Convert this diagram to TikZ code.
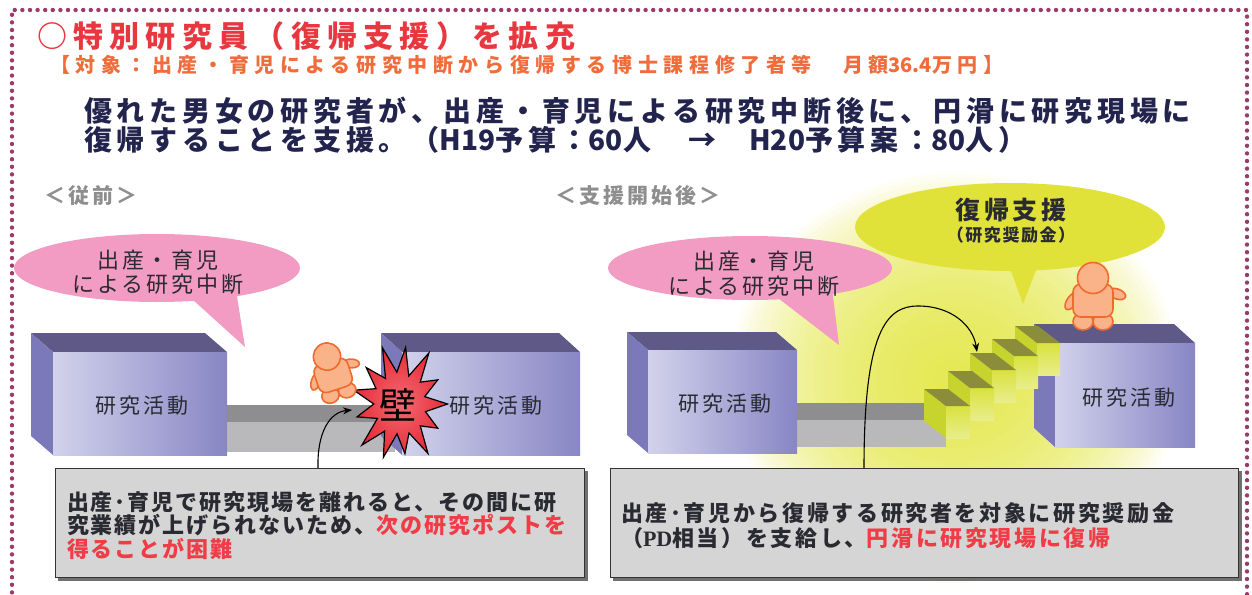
\documentclass[tikz,border=0pt]{standalone}
\usepackage{fontspec}
\usetikzlibrary{arrows.meta}

\newfontfamily\jp{Noto Sans CJK JP}
\newfontfamily\pdserif{Liberation Serif}
% Japanese text: size in pt, extra tracking in percent of the size
\newcommand\jsz[2]{\jp\mdseries\fontsize{#1}{#1}\selectfont\addfontfeatures{LetterSpace=#2}}
\newcommand\jszb[2]{\jp\bfseries\fontsize{#1}{#1}\selectfont\addfontfeatures{LetterSpace=#2}}
% Latin runs without tracking
\newcommand\lat[1]{{\jp #1}}

\definecolor{dotc}{HTML}{9C3A6A}
\definecolor{titlered}{HTML}{E8373F}
\definecolor{suborange}{HTML}{F06C3A}
\definecolor{navy}{HTML}{22244E}
\definecolor{labelgray}{HTML}{8E8E8E}
\definecolor{inkc}{HTML}{2A2A32}
\definecolor{boxred}{HTML}{F03C46}
\definecolor{pinkc}{HTML}{F29BC3}
\definecolor{yelc}{HTML}{E0E23A}
\definecolor{glowc}{HTML}{E2E640}
\definecolor{cubetopc}{HTML}{5F5988}
\definecolor{cubesidec}{HTML}{7B79B9}
\definecolor{cubeL}{HTML}{D2D2EC}
\definecolor{cubeR}{HTML}{8886C4}
\definecolor{barTop}{HTML}{8E8E90}
\definecolor{barLow}{HTML}{B9B9BB}
\definecolor{treadc}{HTML}{8C8D3A}
\definecolor{riserc}{HTML}{D9E23E}
\definecolor{stepsidec}{HTML}{C8D42E}
\definecolor{skin}{HTML}{FAB389}
\definecolor{skinline}{HTML}{F06A2E}
\definecolor{burstc}{HTML}{E52B36}
\definecolor{burstin}{HTML}{F36A74}
\definecolor{tboxfill}{HTML}{D5D5D5}
\definecolor{tboxline}{HTML}{333333}
\definecolor{tboxshadow}{HTML}{707070}

% 3D block: front face (#1,#2)-(#3,#4), depth offset (#5,#6)
\newcommand\cubebox[6]{%
  \fill[cubetopc] (#1,#2) -- (#1+#5,#2+#6) -- (#3+#5,#2+#6) -- (#3,#2) -- cycle;
  \fill[cubesidec] (#1,#2) -- (#1+#5,#2+#6) -- (#1+#5,#4+#6) -- (#1,#4) -- cycle;
  \fill[left color=cubeL, right color=cubeR] (#1,#2) rectangle (#3,#4);
}
% one stair block: front-left corner (#1,#2), width #3
\newcommand\stairblock[3]{%
  \fill[stepsidec] (#1,#2) -- (#1-22,#2-17) -- (#1-22,#2+15) -- (#1,#2+32) -- cycle;
  \fill[top color=riserc, bottom color=riserc!60!white] (#1,#2) rectangle (#1+#3,#2+32);
  \fill[treadc] (#1,#2) -- (#1-22,#2-17) -- (#1+#3-22,#2-17) -- (#1+#3,#2) -- cycle;
}

\tikzset{
  dotborder/.style={dotc, line width=4.4pt, line cap=round, dash pattern=on 0pt off 7.6pt},
  txt/.style={inner sep=0pt, outer sep=0pt},
  tbox/.style={draw=tboxline, line width=1.4pt, fill=tboxfill, inner sep=0pt},
  jumparrow/.style={line width=1.1pt, -{Stealth[length=9pt,width=7pt]}},
  skinfill/.style={fill=skin, draw=skinline, line width=1.6pt},
  person/.pic={
    \path[skinfill] (-21,1) ellipse [x radius=5, y radius=10, rotate=-35];
    \path[skinfill] (24,-6) ellipse [x radius=9, y radius=5, rotate=-20];
    \path[skinfill] (-10,21.5) ellipse [x radius=10, y radius=8.5];
    \path[skinfill] (10,21.5) ellipse [x radius=10, y radius=8.5];
    \path[skinfill, rounded corners=8pt] (-20,-16) rectangle (20,17);
    \path[skinfill] (0,-22) circle [radius=15.5];
  }
}

\begin{document}
\begin{tikzpicture}[x=1pt,y=-1pt]
\useasboundingbox (0,0) rectangle (1252,594);

% soft light behind the stairs: stacked translucent ellipses
\foreach \i in {0,...,39} {
  \fill[glowc, opacity=0.05] (955,378) ellipse [x radius={225-5.2*\i}, y radius={205-4.8*\i}];
}

% dotted frame
\draw[dotborder] (12,600) -- (12,10) -- (1247,10) -- (1247,600);

% heading
\node[txt, anchor=base west, text=titlered, font=\jszb{30}{21}] (title) at (37,48) {○特別研究員（復帰支援）を拡充};
\node[txt, anchor=base west, text=suborange, font=\jszb{20}{28}] (target) at (50,72)
  {【対象：出産・育児による研究中断から復帰する博士課程修了者等　月額\lat{36.4}万円】};
\node[txt, anchor=base west, text=navy, font=\jszb{28}{17}] (lead1) at (84,121)
  {優れた男女の研究者が、出産・育児による研究中断後に、円滑に研究現場に};
\node[txt, anchor=base west, text=navy, font=\jszb{28}{17}] (lead2) at (84,150)
  {復帰することを支援。（\lat{H19}予算：\lat{60}人　→　\lat{H20}予算案：\lat{80}人）};

\node[txt, anchor=base west, text=labelgray, font=\jszb{21}{15}] (before) at (44,203) {＜従前＞};
\node[txt, anchor=base west, text=labelgray, font=\jszb{21}{15}] (after) at (555,203) {＜支援開始後＞};

% ---------- before ----------
\fill[pinkc] (157,268) ellipse [x radius=143, y radius=34];
\fill[pinkc] (182,290) -- (245,347) -- (236,290) -- cycle;
\node[txt, anchor=base, text=inkc, font=\jsz{22}{13}] (pinkL1) at (158,268) {出産・育児};
\node[txt, anchor=base, text=inkc, font=\jsz{22}{13}] (pinkL2) at (158,292) {による研究中断};

\fill[barTop] (222,405) rectangle (395,422);
\fill[barLow] (222,422) rectangle (395,452);
\cubebox{53}{352}{227}{455}{-22}{-19}
\node[txt, anchor=base, text=inkc, font=\jsz{21}{15}] (actL1) at (142,413) {研究活動};
\cubebox{402}{352}{580}{455}{-21}{-19}
\node[txt, anchor=base, text=inkc, font=\jsz{21}{15}] (actL2) at (496,413) {研究活動};

% the wall burst
\begin{scope}[shift={(400,404)}, xscale=0.82]
  \path[draw=black, line width=1.2pt, inner color=burstin, outer color=burstc]
    (0:58)
    -- (13.85:32) -- (27.7:52) -- (41.5:33) -- (55.4:60) -- (69.2:31)
    -- (83.1:50) -- (96.9:30) -- (110.8:57) -- (124.6:33) -- (138.5:62)
    -- (152.3:31) -- (166.2:54) -- (180:32) -- (193.8:58) -- (207.7:33)
    -- (221.5:55) -- (235.4:31) -- (249.2:60) -- (263.1:32) -- (276.9:57)
    -- (290.8:30) -- (304.6:62) -- (318.5:33) -- (332.3:52) -- (346.2:31) -- cycle;
\end{scope}
\node[txt, anchor=base, text=black, font=\jsz{37}{0}] (wall) at (398,419) {壁};

\pic[rotate=18, scale=0.88] at (333,375) {person};

% ---------- after ----------
\fill[pinkc] (750,268) ellipse [x radius=142, y radius=32];
\fill[pinkc] (765,288) -- (839,345) -- (832,288) -- cycle;
\node[txt, anchor=base, text=inkc, font=\jsz{22}{13}] (pinkR1) at (754,269) {出産・育児};
\node[txt, anchor=base, text=inkc, font=\jsz{22}{13}] (pinkR2) at (754,294) {による研究中断};

\fill[yelc] (1010,227) ellipse [x radius=155, y radius=44];
\fill[yelc] (1007,260) -- (1023,304) -- (1040,260) -- cycle;
\node[txt, anchor=base, text=inkc, font=\jszb{25}{14}] (supp1) at (1011,219.5) {復帰支援};
\node[txt, anchor=base, text=inkc, font=\jszb{17}{9}] (supp2) at (1011,241.5) {（研究奨励金）};

\fill[barTop] (792,403) rectangle (946,420);
\fill[barLow] (792,420) rectangle (946,447);
\cubebox{648}{350}{797}{453}{-21}{-18}
\node[txt, anchor=base, text=inkc, font=\jsz{21}{15}] (actR1) at (725,411) {研究活動};
\cubebox{1055}{343}{1195}{447}{-21}{-19}
\node[txt, anchor=base, text=inkc, font=\jsz{21}{15}] (actR2) at (1129,405) {研究活動};

% stairs up to the platform
\stairblock{1037}{343}{23}
\stairblock{1014}{356}{24}
\stairblock{992}{370}{24}
\stairblock{970}{388}{24}
\stairblock{946}{406}{24}

\pic at (1093,300) {person};

% ---------- notes ----------
\fill[tboxshadow] (58,471) rectangle (588,581);
\node[tbox, anchor=north west, minimum width=529pt, minimum height=109pt] (noteL) at (55,468) {};
\node[txt, anchor=base west, text=inkc, font=\jszb{22}{9}] (noteL1) at (67,510)
  {出産･育児で研究現場を離れると、その間に研};
\node[txt, anchor=base west, text=inkc, font=\jszb{22}{9}] (noteL2) at (67,533.5)
  {究業績が上げられないため、\textcolor{boxred}{次の研究ポストを}};
\node[txt, anchor=base west, text=boxred, font=\jszb{22}{9}] (noteL3) at (67,557)
  {得ることが困難};

\fill[tboxshadow] (613,471) rectangle (1242,581);
\node[tbox, anchor=north west, minimum width=628pt, minimum height=109pt] (noteR) at (610,468) {};
\node[txt, anchor=base west, text=inkc, font=\jszb{22}{12}] (noteR1) at (621,521)
  {出産･育児から復帰する研究者を対象に研究奨励金};
\node[txt, anchor=base west, text=inkc, font=\jszb{22}{12}] (noteR2) at (621,546)
  {（{\pdserif\bfseries PD}相当）を支給し、\textcolor{boxred}{円滑に研究現場に復帰}};

% jumps
\coordinate (jL0) at (318,468);
\coordinate (jL1) at (352,410);
\draw[jumparrow] (jL0) .. controls (317,432) and (330,412) .. (jL1);
\coordinate (jR0) at (864,468);
\coordinate (jRtop) at (918,306);
\coordinate (jR1) at (977,352);
\draw[jumparrow] (jR0) .. controls (864,332) and (886,306) .. (jRtop)
  .. controls (952,306) and (973,326) .. (jR1);
\end{tikzpicture}
\end{document}
